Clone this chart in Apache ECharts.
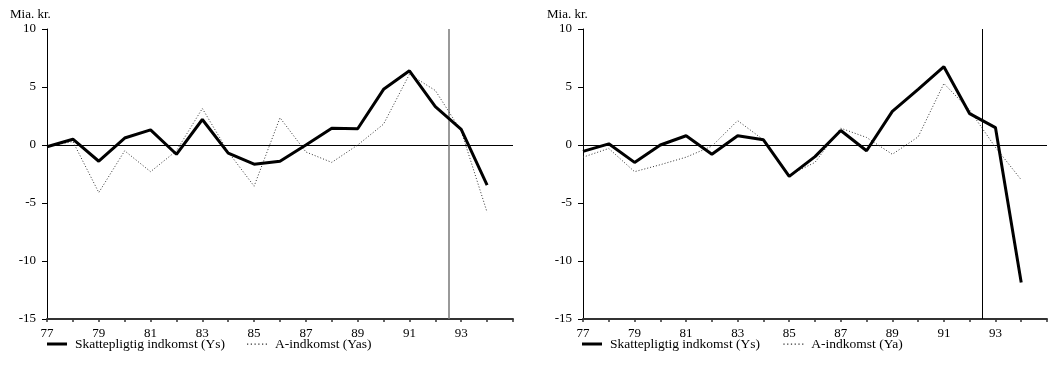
<!DOCTYPE html>
<html><head><meta charset="utf-8">
<script src="https://cdn.jsdelivr.net/npm/echarts@6/dist/echarts.min.js"></script>
<style>html,body{margin:0;padding:0;background:#fff}#c{width:1050px;height:370px}</style>
</head><body><div id="c"></div>
<script>
const years = [77,78,79,80,81,82,83,84,85,86,87,88,89,90,91,92,93,94];
const leftYs  = [-0.15,0.5,-1.4,0.6,1.3,-0.8,2.2,-0.7,-1.65,-1.4,0,1.45,1.4,4.8,6.4,3.3,1.35,-3.45];
const leftYas = [-0.15,0.3,-4.1,-0.5,-2.3,-0.5,3.15,-0.6,-3.55,2.35,-0.6,-1.5,0,1.8,6.1,4.7,1.2,-5.8];
const rightYs = [-0.55,0.1,-1.5,0,0.8,-0.8,0.8,0.45,-2.7,-1.0,1.25,-0.5,2.9,4.8,6.75,2.7,1.5,-11.85];
const rightYa = [-1.05,-0.3,-2.3,-1.7,-1.05,-0.1,2.1,0.45,-2.6,-1.5,1.45,0.65,-0.8,0.7,5.3,3.0,-0.2,-3.0];
const xTicks = [77,79,81,83,85,87,89,91,93];
const yTicks = [-15,-10,-5,0,5,10];
const unitLabel = 'Mia. kr.';
const nameYs = 'Skattepligtig indkomst (Ys)';
const nameLeftA = 'A-indkomst (Yas)';
const nameRightA = 'A-indkomst (Ya)';
const forecastStart = 92.5;

const FONT = 'Liberation Serif';
const FS = 13;
const pair = (arr) => years.map((y,i)=>[y,arr[i]]);
const solidIcon = 'path://M0,0H20V3H0Z';
const dotIcon = 'path://M0,0H1V1H0Z M3,0H4V1H3Z M6,0H7V1H6Z M9,0H10V1H9Z M12,0H13V1H12Z M15,0H16V1H15Z';

function xAxis(idx){
  return {gridIndex:idx,type:'value',min:77,max:95,interval:1,
    axisLine:{onZero:false,lineStyle:{color:'#333',width:2}},
    axisTick:{length:3,lineStyle:{color:'#333',width:1.5}},
    splitLine:{show:false},
    axisLabel:{fontFamily:FONT,fontSize:FS,color:'#000',margin:8,
      formatter:v=>xTicks.indexOf(v)>=0?String(v):''}};
}
function yAxis(idx){
  return {gridIndex:idx,type:'value',min:-15,max:10,interval:5,
    axisLine:{show:true,onZero:false,lineStyle:{color:'#000',width:1}},
    axisTick:{show:true,length:5,lineStyle:{color:'#000'}},
    splitLine:{show:false},
    axisLabel:{fontFamily:FONT,fontSize:FS,color:'#000',margin:11,
      formatter:v=>yTicks.indexOf(v)>=0?String(v):''}};
}
function solid(name,idx,arr,vColor,vWidth){
  return {name:name,type:'line',xAxisIndex:idx,yAxisIndex:idx,data:pair(arr),
    symbol:'none',z:5,lineStyle:{color:'#000',width:3},itemStyle:{color:'#000'},
    markLine:{silent:true,symbol:'none',label:{show:false},z:1,
      data:[{yAxis:0,lineStyle:{color:'#000',width:1,type:'solid'}},
            {xAxis:forecastStart,lineStyle:{color:vColor,width:vWidth,type:'solid'}}]}};
}
function dotted(name,idx,arr){
  return {name:name,type:'line',xAxisIndex:idx,yAxisIndex:idx,data:pair(arr),
    symbol:'none',z:4,lineStyle:{color:'#333',width:1,type:[1,2]},itemStyle:{color:'#333'}};
}
function legend(left,names,gap){
  return {left:left,top:332,itemHeight:12,itemGap:gap,itemWidth:20,
    textStyle:{fontFamily:FONT,fontSize:13.5,color:'#000',padding:[0,0,0,3]},
    data:[{name:names[0],icon:solidIcon,itemStyle:{color:'#000'}},
          {name:names[1],icon:dotIcon,itemStyle:{color:'#333'}}]};
}
const chart = echarts.init(document.getElementById('c'),null,{renderer:'canvas'});
chart.setOption({
  animation:false,
  backgroundColor:'#fff',
  title:[
    {text:unitLabel,left:7,top:8,padding:[0,3],textStyle:{fontFamily:FONT,fontSize:FS,fontWeight:'normal',color:'#000'}},
    {text:unitLabel,left:544,top:8,padding:[0,3],textStyle:{fontFamily:FONT,fontSize:FS,fontWeight:'normal',color:'#000'}}
  ],
  grid:[{left:47,top:29,width:466,height:290},{left:583,top:29,width:466,height:290}],
  xAxis:[xAxis(0),xAxis(1)],
  yAxis:[yAxis(0),yAxis(1)],
  legend:[legend(42,[nameYs,nameLeftA],22),legend(577,[nameYs+' ',nameRightA],20)],
  series:[
    solid(nameYs,0,leftYs,'#777',1.5),
    dotted(nameLeftA,0,leftYas),
    solid(nameYs+' ',1,rightYs,'#000',1),
    dotted(nameRightA,1,rightYa)
  ]
});
</script></body></html>
